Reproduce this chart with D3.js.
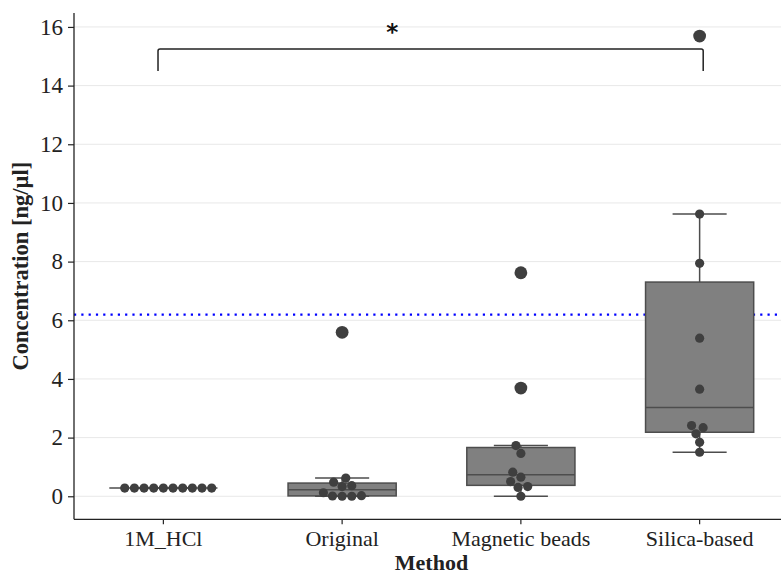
<!DOCTYPE html>
<html>
<head>
<meta charset="utf-8">
<script src="https://cdn.jsdelivr.net/npm/d3@7"></script>
<style>
  html, body { margin: 0; padding: 0; background: #fff; }
  svg { display: block; }
</style>
</head>
<body>
<svg id="chart" width="781" height="576"></svg>
<script>
// Extraction methods and measured DNA concentrations (ng/µl)
const methods = ["1M_HCl", "Original", "Magnetic beads", "Silica-based"];
const hclValues = [0.28, 0.28, 0.28, 0.28, 0.28, 0.28, 0.28, 0.28, 0.28, 0.28];
const originalValues = [5.59, 0.62, 0.48, 0.36, 0.33, 0.12, 0.02, 0.01, 0.0, 0.0];
const magneticValues = [7.62, 3.69, 1.73, 1.46, 0.82, 0.65, 0.50, 0.33, 0.30, 0.0];
const silicaValues = [15.69, 9.62, 7.94, 5.39, 3.65, 2.41, 2.34, 2.13, 1.84, 1.50];
const yTicks = [0, 2, 4, 6, 8, 10, 12, 14, 16];
const thresholdValue = 6.19;
// significance bracket between first and last group
const bracketFrom = -0.03, bracketTo = 3.02, bracketTop = 15.25, bracketBottom = 14.5;
const starPos = 1.28, starValue = 15.55, starLabel = "*";

const groups = [hclValues, originalValues, magneticValues, silicaValues];

const svg = d3.select("#chart");
const W = 781, H = 576;
const plotLeft = 74, plotRight = 789, plotTop = 13, plotBottom = 519.3;

const x = d3.scaleBand().domain(methods).range([plotLeft, plotRight]).padding(0);
const bw = x.bandwidth();
const xc = m => x(m) + bw / 2;
const xNum = v => plotLeft + (v + 0.5) * bw;
const y = d3.scaleLinear().domain([-0.785, 16.475]).range([plotBottom, plotTop]);

const serif = "'Liberation Serif', 'Times New Roman', serif";
const boxFill = "#808080", boxLine = "#4d4d4d", dotColor = "#3f3f3f";

// horizontal grid
svg.append("g").selectAll("line").data(yTicks).join("line")
  .attr("x1", plotLeft).attr("x2", W)
  .attr("y1", d => y(d)).attr("y2", d => y(d))
  .attr("stroke", "#e8e8e8").attr("stroke-width", 1);

// threshold line
svg.append("line")
  .attr("x1", plotLeft).attr("x2", W)
  .attr("y1", y(thresholdValue)).attr("y2", y(thresholdValue))
  .attr("stroke", "#0000ff").attr("stroke-width", 2.2)
  .attr("stroke-dasharray", "2.2,5.1");

// box plots (Tukey whiskers at 1.5 IQR)
const boxW = bw * 0.605, capW = boxW / 2;
const stats = groups.map(vals => {
  const s = vals.slice().sort(d3.ascending);
  const q1 = d3.quantile(s, 0.25), med = d3.quantile(s, 0.5), q3 = d3.quantile(s, 0.75);
  const iqr = q3 - q1;
  const lo = d3.min(s.filter(v => v >= q1 - 1.5 * iqr));
  const hi = d3.max(s.filter(v => v <= q3 + 1.5 * iqr));
  const fliers = s.filter(v => v < q1 - 1.5 * iqr || v > q3 + 1.5 * iqr);
  return { q1, med, q3, lo, hi, fliers };
});

const boxes = svg.append("g").selectAll("g").data(stats).join("g")
  .attr("transform", (d, i) => `translate(${xc(methods[i])},0)`);
boxes.append("line").attr("x1", 0).attr("x2", 0)
  .attr("y1", d => y(d.q3)).attr("y2", d => y(d.hi))
  .attr("stroke", boxLine).attr("stroke-width", 1.5);
boxes.append("line").attr("x1", 0).attr("x2", 0)
  .attr("y1", d => y(d.q1)).attr("y2", d => y(d.lo))
  .attr("stroke", boxLine).attr("stroke-width", 1.5);
boxes.append("rect")
  .attr("x", -boxW / 2).attr("width", boxW)
  .attr("y", d => y(d.q3)).attr("height", d => Math.max(0, y(d.q1) - y(d.q3)))
  .attr("fill", boxFill).attr("stroke", boxLine).attr("stroke-width", 1.5);
boxes.append("line").attr("x1", -boxW / 2).attr("x2", boxW / 2)
  .attr("y1", d => y(d.med)).attr("y2", d => y(d.med))
  .attr("stroke", boxLine).attr("stroke-width", 1.5);
boxes.append("line").attr("x1", -capW / 2).attr("x2", capW / 2)
  .attr("y1", d => y(d.hi)).attr("y2", d => y(d.hi))
  .attr("stroke", boxLine).attr("stroke-width", 1.5);
boxes.append("line").attr("x1", -capW / 2).attr("x2", capW / 2)
  .attr("y1", d => y(d.lo)).attr("y2", d => y(d.lo))
  .attr("stroke", boxLine).attr("stroke-width", 1.5);
boxes.selectAll("circle.flier").data(d => d.fliers).join("circle")
  .attr("class", "flier").attr("cx", 0).attr("cy", v => y(v))
  .attr("r", 6.4).attr("fill", dotColor);

// beeswarm layout in pixel space
const dotR = 4.6;
function swarm(vals, mid) {
  const pts = vals.map(v => ({ v, x: mid, y: y(v), r: dotR }))
    .sort((a, b) => b.y - a.y);
  const placed = [];
  pts.forEach((p, i) => {
    if (i === 0) { placed.push(p); return; }
    const nb = [];
    for (let j = placed.length - 1; j >= 0; j--) {
      const q = placed[j];
      if (Math.abs(q.y - p.y) < q.r + p.r) nb.push(q); else break;
    }
    const cands = [mid];
    let leftFirst = true;
    nb.forEach(q => {
      const dy = p.y - q.y;
      const dx = Math.sqrt(Math.max((p.r + q.r) ** 2 - dy * dy, 0)) * 1.05;
      const l = q.x - dx, r = q.x + dx;
      if (leftFirst) cands.push(l, r); else cands.push(r, l);
      leftFirst = !leftFirst;
    });
    // nearest to the midline first; wide ties settle to the right
    const order = cands.map((c, k) => ({ c, k })).sort((a, b) => {
      const da = Math.abs(a.c - mid), db = Math.abs(b.c - mid);
      if (Math.abs(da - db) > 1e-6) return da - db;
      if (da > 2 * dotR) return b.c - a.c;
      return a.k - b.k;
    });
    let chosen = mid;
    for (const o of order) {
      const ok = nb.every(q => (q.x - o.c) ** 2 + (q.y - p.y) ** 2 >= (q.r + p.r) ** 2 * 0.9999);
      if (ok) { chosen = o.c; break; }
    }
    p.x = chosen;
    placed.push(p);
  });
  return placed;
}

const dots = groups.flatMap((vals, i) => swarm(vals, xc(methods[i])));
svg.append("g").selectAll("circle").data(dots).join("circle")
  .attr("cx", d => d.x).attr("cy", d => d.y).attr("r", dotR)
  .attr("fill", dotColor);

// axes
const yAxis = d3.axisLeft(y).tickValues(yTicks).tickSize(6).tickPadding(5);
const gy = svg.append("g").attr("transform", `translate(${plotLeft},0)`).call(yAxis);
gy.select(".domain").attr("d", `M0,${plotTop}V${plotBottom}`);
const xAxis = d3.axisBottom(x).tickSize(5).tickPadding(6);
const gx = svg.append("g").attr("transform", `translate(0,${plotBottom})`).call(xAxis);
gx.select(".domain").attr("d", `M${plotLeft},0H${W}`);
[gx, gy].forEach(g => {
  g.select(".domain").attr("stroke", "#222").attr("stroke-width", 1.3);
  g.selectAll(".tick line").attr("stroke", "#222").attr("stroke-width", 1.2);
  g.selectAll(".tick text").attr("font-family", serif).attr("fill", "#222");
});
gy.selectAll(".tick text").attr("font-size", 23);
gx.selectAll(".tick text").attr("font-size", 22);

// axis titles
svg.append("text")
  .attr("x", (plotLeft + plotRight) / 2).attr("y", 570)
  .attr("text-anchor", "middle").attr("font-family", serif)
  .attr("font-weight", "bold").attr("font-size", 22).attr("fill", "#222")
  .text("Method");
svg.append("text")
  .attr("transform", `translate(28,${(plotTop + plotBottom) / 2}) rotate(-90)`)
  .attr("text-anchor", "middle").attr("font-family", serif)
  .attr("font-weight", "bold").attr("font-size", 22.5).attr("fill", "#222")
  .text("Concentration [ng/µl]");

// significance bracket
const bx1 = xNum(bracketFrom), bx2 = xNum(bracketTo);
svg.append("path")
  .attr("d", `M${bx1},${y(bracketBottom)}V${y(bracketTop) + 2}Q${bx1},${y(bracketTop)} ${bx1 + 2},${y(bracketTop)}H${bx2 - 2}Q${bx2},${y(bracketTop)} ${bx2},${y(bracketTop) + 2}V${y(bracketBottom)}`)
  .attr("fill", "none").attr("stroke", "#222").attr("stroke-width", 1.5);
svg.append("text")
  .attr("x", xNum(starPos)).attr("y", y(starValue))
  .attr("text-anchor", "middle").attr("font-family", "'DejaVu Sans', sans-serif")
  .attr("font-weight", "bold").attr("font-size", 23).attr("fill", "#111")
  .text(starLabel);
</script>
</body>
</html>
